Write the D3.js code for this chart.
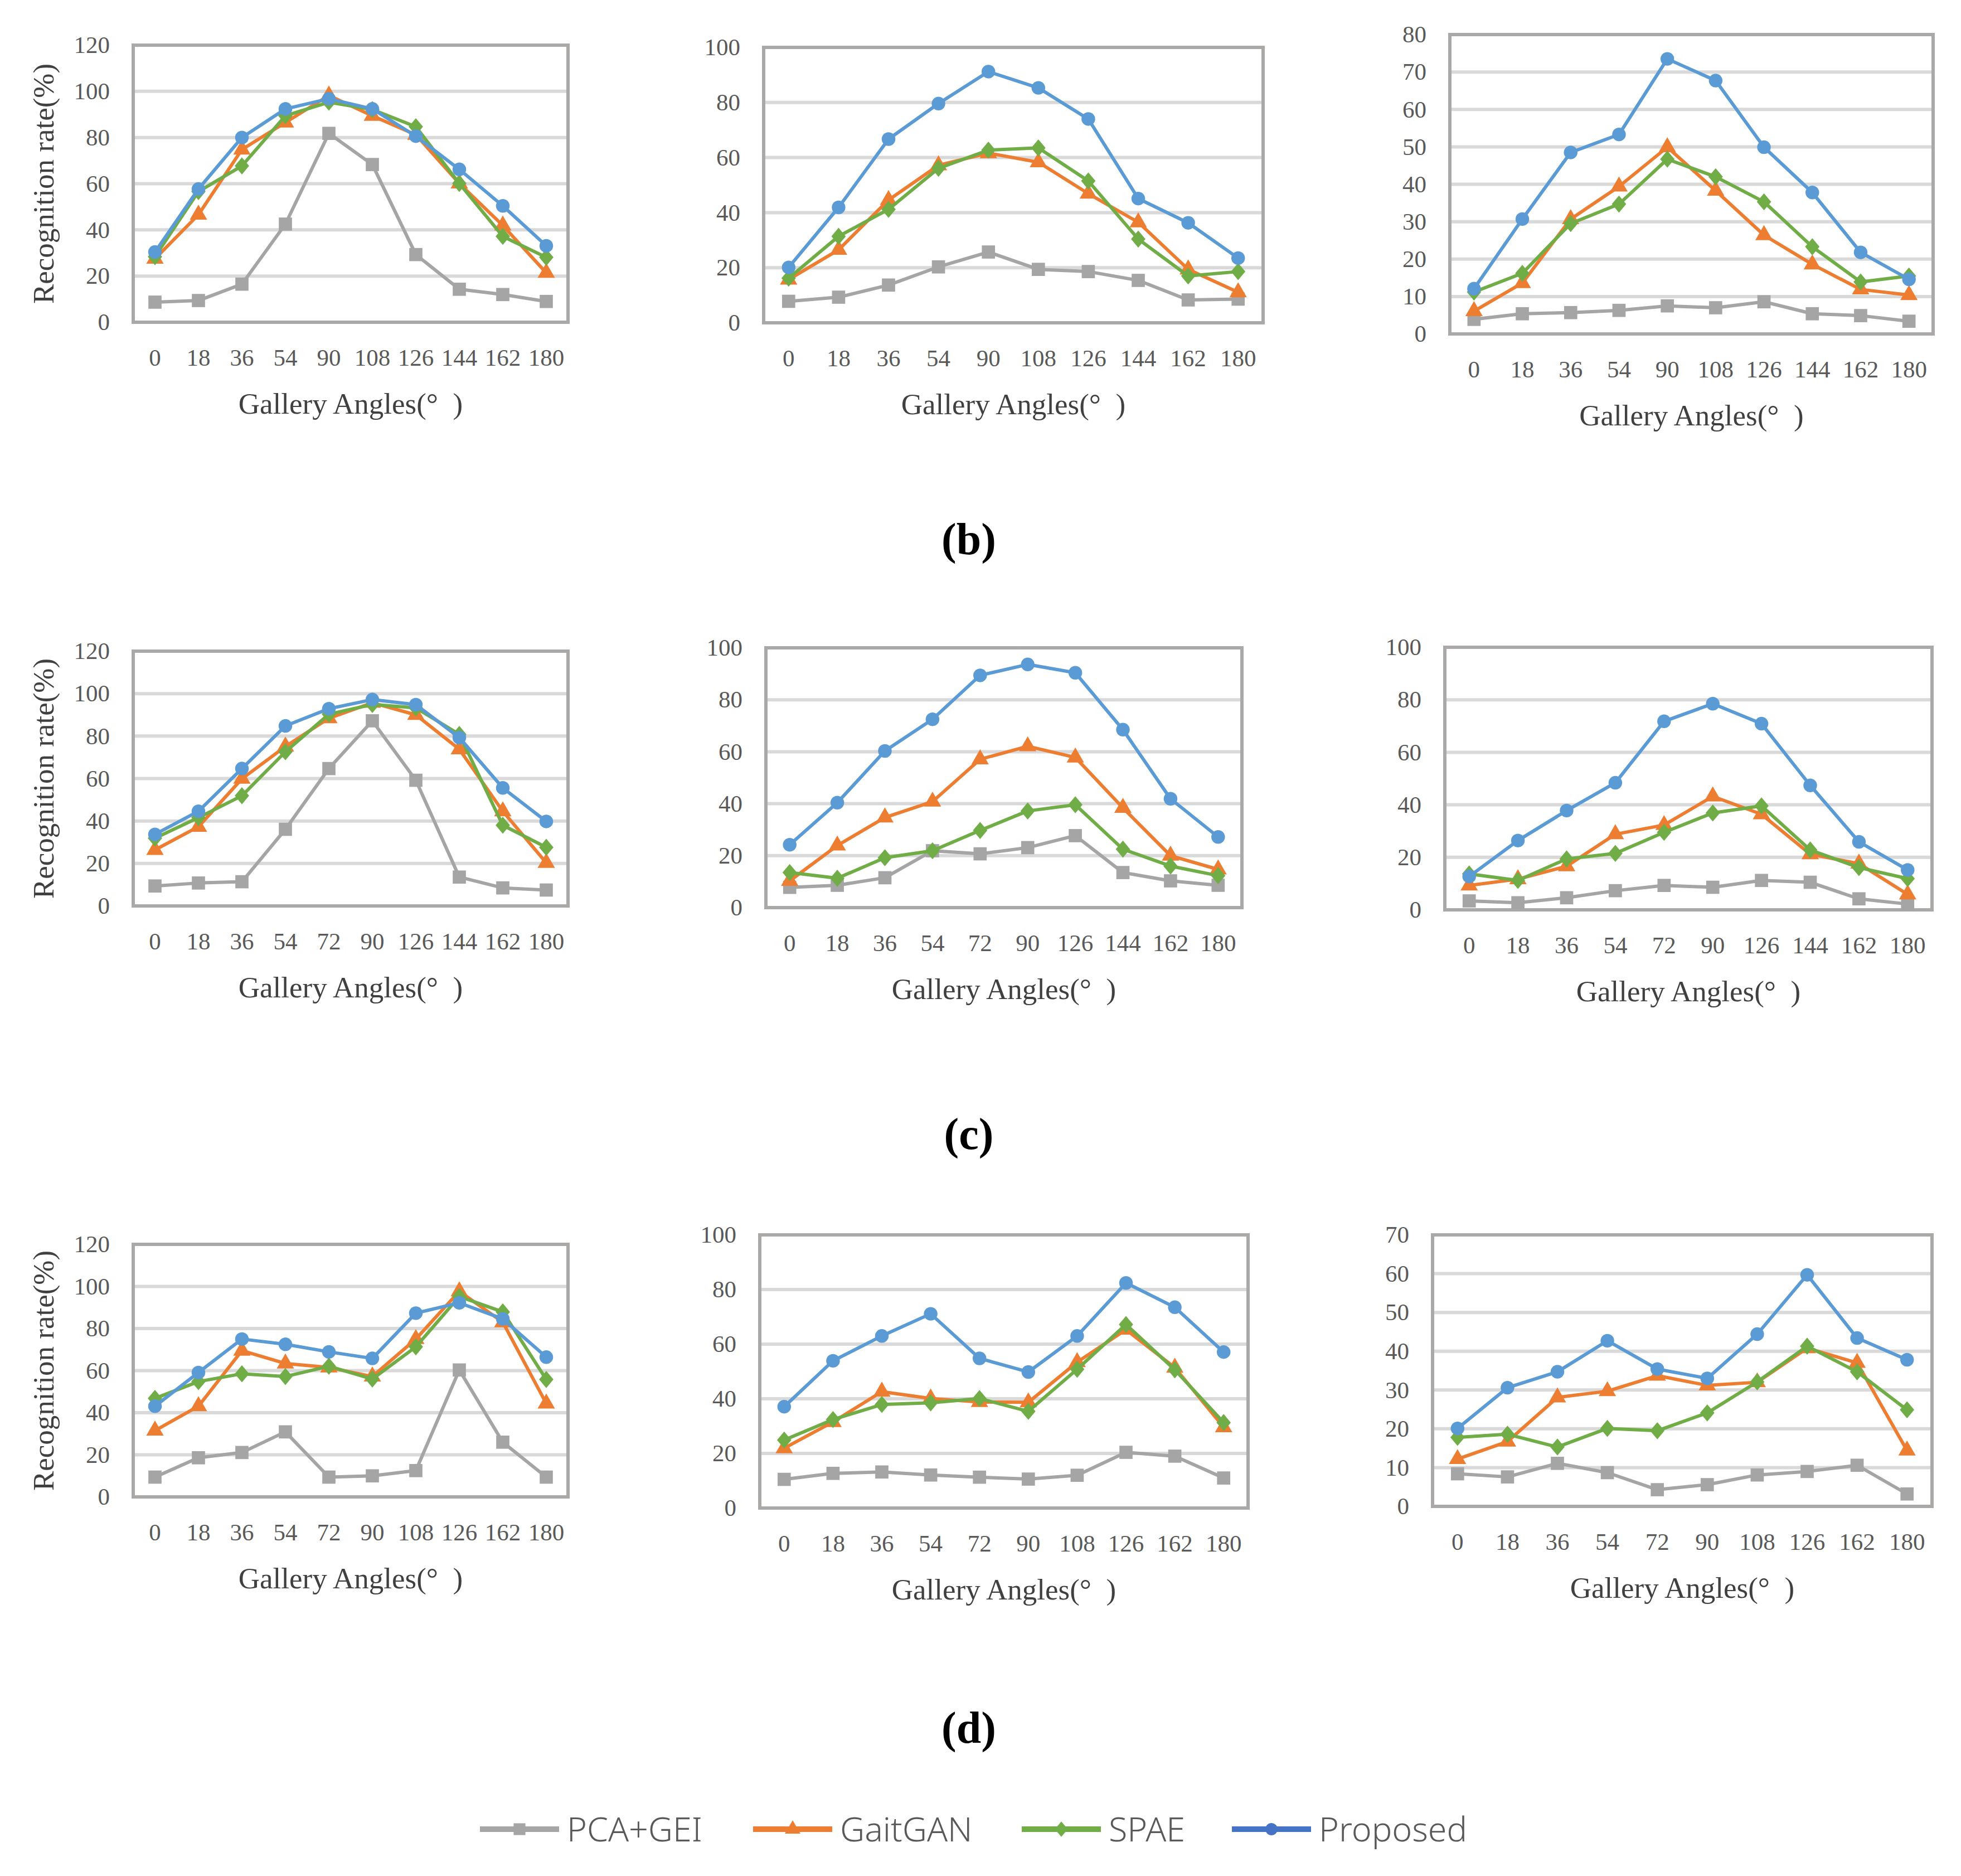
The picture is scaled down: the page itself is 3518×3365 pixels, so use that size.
<!DOCTYPE html>
<html>
<head>
<meta charset="utf-8">
<script src="https://cdn.jsdelivr.net/npm/d3@7"></script>
<style>
  body { margin: 0; background: #fff; }
  svg { display: block; }
</style>
</head>
<body>
<svg id="fig" width="3518" height="3365"></svg>
<script>
// categories (gallery angles) for each row
const catsB = ["0", "18", "36", "54", "90", "108", "126", "144", "162", "180"];
const catsC = ["0", "18", "36", "54", "72", "90", "126", "144", "162", "180"];
const catsD = ["0", "18", "36", "54", "72", "90", "108", "126", "162", "180"];

const seriesNames = ["PCA+GEI", "GaitGAN", "SPAE", "Proposed"];

// row (b)
const b1PCA  = [8.7, 9.4, 16.5, 42.5, 81.8, 68.3, 29.3, 14.3, 12.0, 9.0];
const b1GAN  = [27.5, 46.6, 74.8, 86.5, 98.2, 89.4, 81.2, 60.1, 41.9, 21.4];
const b1SPAE = [28.4, 56.6, 67.7, 89.4, 95.3, 92.1, 84.7, 60.1, 37.2, 28.1];
const b1Prop = [30.4, 57.7, 80.0, 92.4, 96.8, 92.4, 80.6, 66.2, 50.4, 33.1];

const b2PCA  = [7.8, 9.3, 13.7, 20.3, 25.7, 19.4, 18.6, 15.4, 8.3, 8.6];
const b2GAN  = [15.7, 26.5, 44.6, 57.2, 61.6, 58.3, 46.9, 36.5, 19.4, 11.1];
const b2SPAE = [16.2, 31.4, 41.2, 56.1, 62.7, 63.5, 51.5, 30.4, 17.0, 18.6];
const b2Prop = [20.1, 41.9, 66.7, 79.6, 91.2, 85.3, 74.0, 45.1, 36.3, 23.5];

const b3PCA  = [3.9, 5.4, 5.7, 6.3, 7.5, 7.0, 8.6, 5.4, 4.9, 3.4];
const b3GAN  = [6.1, 13.6, 30.7, 39.4, 49.9, 38.3, 26.4, 18.6, 11.9, 10.4];
const b3SPAE = [11.2, 16.2, 29.5, 34.7, 46.7, 42.0, 35.3, 23.3, 13.9, 15.5];
const b3Prop = [12.1, 30.7, 48.5, 53.3, 73.5, 67.7, 49.9, 37.8, 21.8, 14.6];

// row (c)
const c1PCA  = [9.4, 10.8, 11.4, 36.1, 64.7, 87.2, 59.2, 13.6, 8.5, 7.5];
const c1GAN  = [26.4, 37.3, 59.9, 75.1, 88.4, 95.7, 90.0, 73.8, 44.6, 20.3];
const c1SPAE = [31.9, 41.6, 51.9, 72.6, 90.3, 94.9, 93.3, 80.8, 38.0, 27.6];
const c1Prop = [33.7, 44.6, 64.7, 84.8, 92.9, 97.2, 94.8, 79.3, 55.6, 39.8];

const c2PCA  = [7.8, 8.6, 11.5, 21.9, 20.7, 23.1, 27.7, 13.5, 10.3, 8.6];
const c2GAN  = [10.3, 23.9, 34.7, 40.8, 57.1, 62.1, 57.8, 38.4, 20.0, 14.7];
const c2SPAE = [13.5, 11.3, 19.2, 21.9, 29.7, 37.2, 39.6, 22.5, 16.0, 12.3];
const c2Prop = [24.2, 40.4, 60.3, 72.5, 89.4, 93.6, 90.4, 68.5, 41.9, 27.2];

const c3PCA  = [3.4, 2.7, 4.6, 7.3, 9.3, 8.6, 11.2, 10.5, 4.2, 2.2];
const c3GAN  = [9.3, 11.7, 16.6, 28.8, 32.3, 43.2, 36.4, 21.2, 17.6, 5.9];
const c3SPAE = [13.7, 11.2, 19.4, 21.5, 29.5, 36.9, 39.6, 22.8, 16.1, 11.9];
const c3Prop = [12.7, 26.4, 37.8, 48.4, 71.8, 78.5, 70.9, 47.4, 25.9, 15.2];

// row (d)
const d1PCA  = [9.4, 18.6, 21.1, 30.9, 9.4, 10.0, 12.5, 60.3, 26.0, 9.4];
const d1GAN  = [31.5, 43.1, 69.5, 63.4, 61.5, 57.2, 75.0, 97.7, 83.0, 44.4];
const d1SPAE = [46.8, 54.8, 58.5, 57.2, 62.1, 56.0, 71.3, 95.2, 87.9, 55.8];
const d1Prop = [43.1, 59.1, 75.0, 72.5, 68.9, 65.8, 87.3, 92.2, 84.6, 66.4];

const d2PCA  = [10.5, 12.7, 13.2, 12.1, 11.3, 10.6, 12.0, 20.4, 19.0, 11.0];
const d2GAN  = [21.9, 31.5, 42.6, 40.1, 38.8, 38.7, 53.4, 65.3, 51.4, 29.6];
const d2SPAE = [24.9, 32.4, 37.9, 38.5, 40.1, 35.4, 50.8, 67.2, 50.6, 31.3];
const d2Prop = [37.1, 53.9, 63.0, 71.1, 54.8, 49.8, 63.0, 82.4, 73.5, 57.1];

const d3PCA  = [8.4, 7.6, 11.1, 8.7, 4.3, 5.6, 8.1, 9.0, 10.6, 3.2];
const d3GAN  = [12.2, 16.7, 28.1, 29.7, 33.7, 31.2, 32.0, 40.8, 37.0, 14.4];
const d3SPAE = [17.8, 18.6, 15.3, 20.1, 19.5, 24.1, 32.1, 41.3, 34.7, 24.9];
const d3Prop = [20.1, 30.6, 34.7, 42.7, 35.4, 33.0, 44.4, 59.7, 43.4, 37.8];

// y axis ranges and tick steps per panel
const yMax  = [120, 100, 80, 120, 100, 100, 120, 100, 70];
const yStep = [20, 20, 10, 20, 20, 20, 20, 20, 10];

const rowLabels = ["(b)", "(c)", "(d)"];

const colors = ["#A5A5A5", "#ED7D31", "#70AD47", "#5B9BD5"];
const legendColors = ["#A5A5A5", "#ED7D31", "#70AD47", "#4472C4"];

const diamond = {
  draw(ctx, size) {
    const w = Math.sqrt(size) * 0.8, h = Math.sqrt(size) * 0.95;
    ctx.moveTo(0, -h); ctx.lineTo(w, 0); ctx.lineTo(0, h); ctx.lineTo(-w, 0); ctx.closePath();
  }
};
const symbols = [d3.symbolSquare, d3.symbolTriangle, diamond, d3.symbolCircle];
const symSizes = [560, 420, 260, 470];

const panels = [
  {cats: catsB, s: [b1PCA, b1GAN, b1SPAE, b1Prop], box: [239, 81, 1019, 578], ytitle: true},
  {cats: catsB, s: [b2PCA, b2GAN, b2SPAE, b2Prop], box: [1370, 85, 2266, 579]},
  {cats: catsB, s: [b3PCA, b3GAN, b3SPAE, b3Prop], box: [2601, 62, 3468, 599]},
  {cats: catsC, s: [c1PCA, c1GAN, c1SPAE, c1Prop], box: [239, 1168, 1019, 1625], ytitle: true},
  {cats: catsC, s: [c2PCA, c2GAN, c2SPAE, c2Prop], box: [1374, 1162, 2228, 1628]},
  {cats: catsC, s: [c3PCA, c3GAN, c3SPAE, c3Prop], box: [2592, 1161, 3466, 1632]},
  {cats: catsD, s: [d1PCA, d1GAN, d1SPAE, d1Prop], box: [239, 2232, 1019, 2685], ytitle: true},
  {cats: catsD, s: [d2PCA, d2GAN, d2SPAE, d2Prop], box: [1363, 2215, 2239, 2705]},
  {cats: catsD, s: [d3PCA, d3GAN, d3SPAE, d3Prop], box: [2570, 2215, 3466, 2702]}
];

const svg = d3.select("#fig");
const serif = "'Liberation Serif', 'DejaVu Serif', serif";

panels.forEach((p, i) => {
  const [x0, y0, x1, y1] = p.box;
  const x = d3.scaleBand().domain(p.cats).range([x0, x1]);
  const y = d3.scaleLinear().domain([0, yMax[i]]).range([y1, y0]);
  const ticks = d3.range(0, yMax[i] + 0.001, yStep[i]);
  const g = svg.append("g");

  // gridlines
  g.append("g").selectAll("line")
    .data(ticks.filter(t => t > 0 && t < yMax[i]))
    .join("line")
    .attr("x1", x0).attr("x2", x1)
    .attr("y1", d => y(d)).attr("y2", d => y(d))
    .attr("stroke", "#D9D9D9").attr("stroke-width", 6);

  // frame
  g.append("rect")
    .attr("x", x0).attr("y", y0).attr("width", x1 - x0).attr("height", y1 - y0)
    .attr("fill", "none").attr("stroke", "#ABA8A8").attr("stroke-width", 6);

  // axes
  g.append("g")
    .attr("transform", `translate(${x0},0)`)
    .call(d3.axisLeft(y).tickValues(ticks).tickSize(0).tickPadding(42).tickFormat(d3.format("d")))
    .call(a => a.select(".domain").remove())
    .call(a => a.selectAll("text").attr("font-family", serif).attr("font-size", 43).attr("fill", "#595959"));

  g.append("g")
    .attr("transform", `translate(0,${y1})`)
    .call(d3.axisBottom(x).tickSize(0).tickPadding(47))
    .call(a => a.select(".domain").remove())
    .call(a => a.selectAll("text").attr("font-family", serif).attr("font-size", 43).attr("fill", "#595959"));

  g.append("text")
    .attr("x", (x0 + x1) / 2).attr("y", y1 + 164)
    .attr("text-anchor", "middle")
    .attr("font-family", serif).attr("font-size", 53).attr("fill", "#404040")
    .style("white-space", "pre")
    .text("Gallery Angles(°  )");

  if (p.ytitle) {
    g.append("text")
      .attr("transform", `translate(${x0 - 143},${(y0 + y1) / 2}) rotate(-90)`)
      .attr("text-anchor", "middle")
      .attr("font-family", serif).attr("font-size", 53).attr("fill", "#404040")
      .text("Recognition rate(%)");
  }

  // series
  const line = d3.line()
    .x((d, k) => x(p.cats[k]) + x.bandwidth() / 2)
    .y(d => y(d));

  p.s.forEach((vals, k) => {
    g.append("path")
      .datum(vals)
      .attr("d", line)
      .attr("fill", "none")
      .attr("stroke", colors[k])
      .attr("stroke-width", 6)
      .attr("stroke-linejoin", "round");
    g.append("g").selectAll("path")
      .data(vals)
      .join("path")
      .attr("transform", (d, j) => `translate(${x(p.cats[j]) + x.bandwidth() / 2},${y(d)})`)
      .attr("d", d3.symbol().type(symbols[k]).size(symSizes[k]))
      .attr("fill", colors[k]);
  });
});

// row labels
const labelY = [966, 2033, 3098];
rowLabels.forEach((t, i) => {
  svg.append("text")
    .attr("x", 1738).attr("y", labelY[i]).attr("dy", "0.35em")
    .attr("text-anchor", "middle")
    .attr("font-family", serif).attr("font-weight", "bold").attr("font-size", 80)
    .attr("fill", "#000")
    .text(t);
});

// legend
const legX = [861, 1351, 1833, 2210];
const legY = 3281;
seriesNames.forEach((name, k) => {
  const lg = svg.append("g");
  lg.append("line")
    .attr("x1", legX[k]).attr("x2", legX[k] + 142)
    .attr("y1", legY).attr("y2", legY)
    .attr("stroke", legendColors[k]).attr("stroke-width", 10);
  lg.append("path")
    .attr("transform", `translate(${legX[k] + 71},${legY})`)
    .attr("d", d3.symbol().type(symbols[k]).size(symSizes[k] * 0.8))
    .attr("fill", legendColors[k]);
  lg.append("text")
    .attr("x", legX[k] + 156).attr("y", legY).attr("dy", "0.36em")
    .attr("font-family", "'Noto Sans', sans-serif").attr("font-size", 61).attr("font-weight", 300)
    .attr("fill", "#595959")
    .text(name);
});
</script>
</body>
</html>
